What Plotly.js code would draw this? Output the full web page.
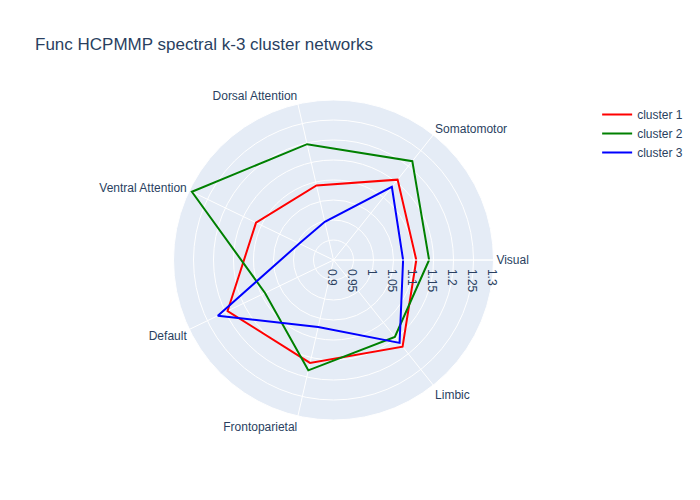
<!DOCTYPE html>
<html>
<head>
<meta charset="utf-8">
<script src="https://cdn.plot.ly/plotly-3.0.1.min.js"></script>
<style>html,body{margin:0;padding:0;}#chart{width:700px;height:500px;}</style>
</head>
<body>
<div id="chart"></div>
<script>
const networks = ["Visual", "Somatomotor", "Dorsal Attention", "Ventral Attention", "Default", "Frontoparietal", "Limbic"];
const cluster1 = [1.107, 1.157, 1.091, 1.115, 1.194, 1.164, 1.177];
const cluster2 = [1.139, 1.216, 1.197, 1.293, 1.090, 1.183, 1.146];
const cluster3 = [1.074, 1.134, 0.998, 0.995, 1.221, 1.072, 1.165];
const seriesNames = ["cluster 1", "cluster 2", "cluster 3"];
const colors = ["red", "green", "blue"];

function closed(arr) { return arr.concat([arr[0]]); }

const traces = [cluster1, cluster2, cluster3].map((vals, i) => ({
  type: "scatterpolar",
  mode: "lines",
  r: closed(vals),
  theta: closed(networks),
  name: seriesNames[i],
  line: {color: colors[i], width: 2}
}));

const layout = {
  width: 700, height: 500,
  font: {family: "Arial, 'Liberation Sans', sans-serif", color: "#2a3f5f", size: 12},
  paper_bgcolor: "white",
  title: {text: "Func HCPMMP spectral k-3 cluster networks", x: 0.05, font: {size: 17}},
  polar: {
    bgcolor: "#E5ECF6",
    radialaxis: {visible: true, range: [0.9, 1.3], dtick: 0.05, gridcolor: "white", linecolor: "white", ticks: ""},
    angularaxis: {type: "category", gridcolor: "white", linecolor: "white", ticks: ""}
  },
  showlegend: true
};
Plotly.newPlot("chart", traces, layout, {displayModeBar: false});
</script>
</body>
</html>
